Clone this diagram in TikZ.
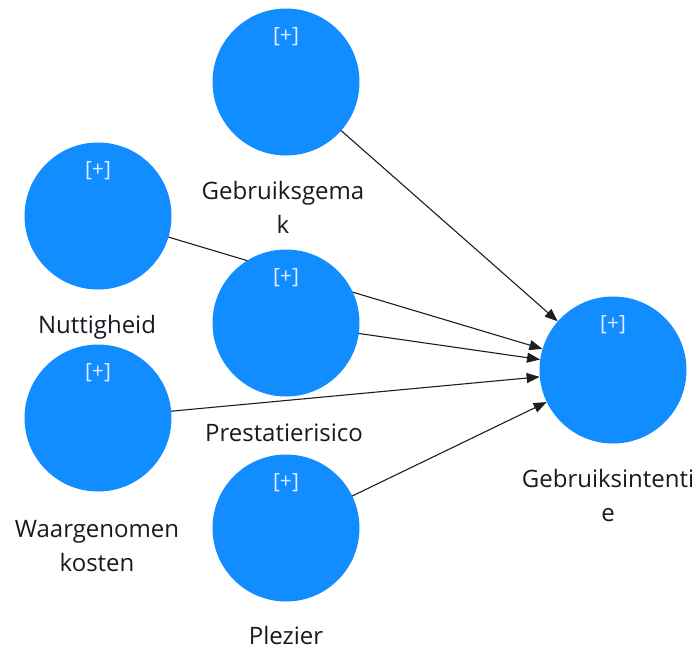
\documentclass[tikz,border=0pt]{standalone}
\usepackage{fontspec}
\setmainfont{Open Sans}
\usetikzlibrary{arrows.meta,backgrounds}
\definecolor{lvblue}{RGB}{18,141,255}
\definecolor{plusc}{RGB}{232,232,255}
\definecolor{txt}{RGB}{25,25,35}
\definecolor{edgec}{RGB}{30,30,30}
\begin{document}
\begin{tikzpicture}[x=1pt,y=-1pt,
  lv/.style={circle,fill=lvblue,draw=none,minimum size=147pt,inner sep=0pt},
  plus/.style={text=plusc,font=\fontsize{21}{24}\selectfont,inner sep=0pt},
  lab/.style={text=txt,font=\fontsize{24}{34}\selectfont,align=center,inner sep=0pt,anchor=base},
  link/.style={draw=edgec,line width=1.1pt,-{Triangle[length=13pt,width=10pt]}}
]
\useasboundingbox (0,0) rectangle (696,649);
\node[lv] (gg) at (286,82) {};
\node[lv] (nu) at (98,216) {};
\node[lv] (pr) at (286,323) {};
\node[lv] (wk) at (98,418) {};
\node[lv] (pl) at (286,528) {};
\node[lv] (gi) at (613,370) {};
\node[plus] (ggp) at ([yshift=45pt]gg.center) {[+]};
\node[plus] (nup) at ([yshift=45pt]nu.center) {[+]};
\node[plus] (prp) at ([yshift=45pt]pr.center) {[+]};
\node[plus] (wkp) at ([yshift=45pt]wk.center) {[+]};
\node[plus] (plp) at ([yshift=45pt]pl.center) {[+]};
\node[plus] (gip) at ([yshift=45pt]gi.center) {[+]};
\node[lab] (ggl) at (283,233) {Gebruiksgema\\k};
\node[lab] (nul) at (97,333) {Nuttigheid};
\node[lab] (prl) at (284,441) {Prestatierisico};
\node[lab] (wkl) at (97,571) {Waargenomen\\kosten};
\node[lab] (pll) at (286,644) {Plezier};
\node[lab] (gil) at (608,521) {Gebruiksintenti\\e};
\begin{scope}[on background layer]
\draw[link] (gg.center) -- (gi);
\draw[link] (nu.center) -- (gi);
\draw[link] (pr.center) -- (gi);
\draw[link] (wk.center) -- (gi);
\draw[link] (pl.center) -- (gi);
\end{scope}
\end{tikzpicture}
\end{document}
